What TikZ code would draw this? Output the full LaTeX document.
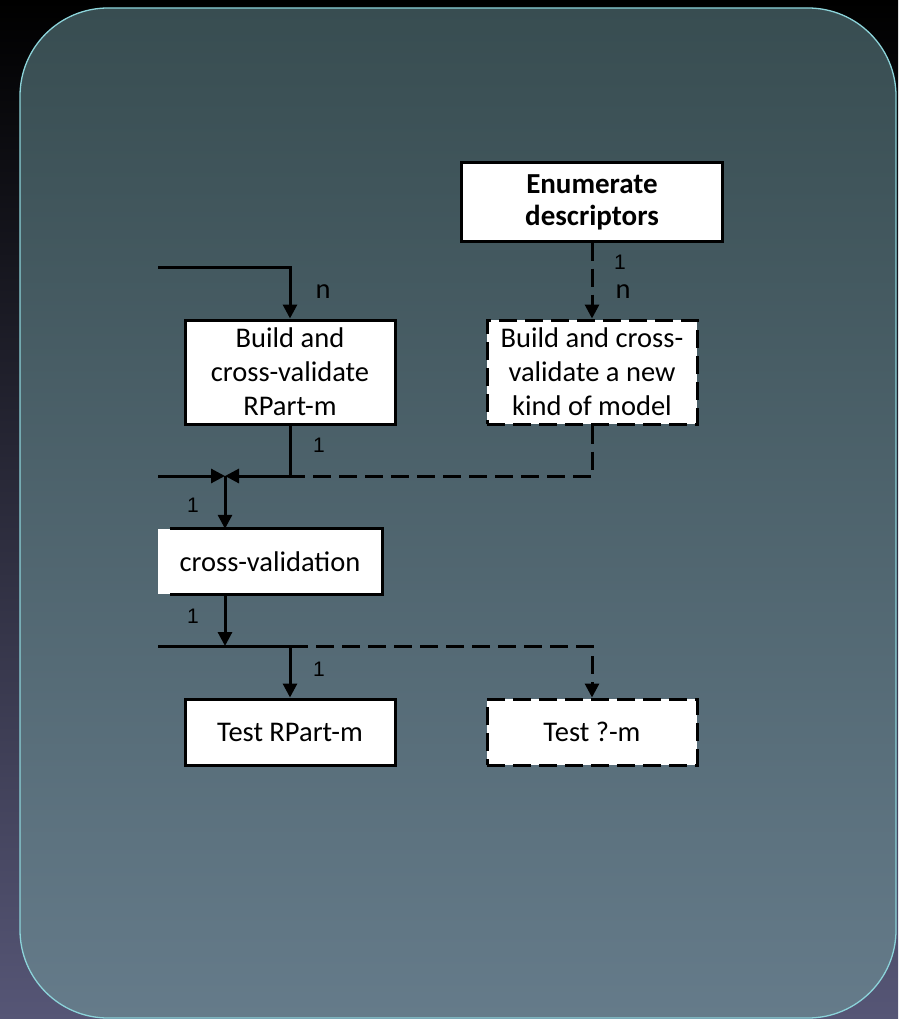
\documentclass[tikz,border=0pt]{standalone}
\usepackage{fontspec}
\setmainfont{Carlito}
\newfontfamily\numfont{Liberation Sans}
\usetikzlibrary{arrows.meta}
\definecolor{outtop}{RGB}{0,0,0}
\definecolor{outmid}{RGB}{30,30,50}
\definecolor{outbot}{RGB}{86,86,118}
\definecolor{intop}{RGB}{56,77,81}
\definecolor{inmid}{RGB}{76,96,112}
\definecolor{inbot}{RGB}{101,123,138}
\definecolor{rim}{RGB}{140,212,218}
\begin{document}
\begin{tikzpicture}[x=1pt,y=-1pt,
  txt/.style={font=\fontsize{28.5}{34}\selectfont},
  box/.style={draw=black, fill=white, line width=3pt, minimum width=210pt,
    inner sep=0pt, align=center, txt},
  dbox/.style={box, dash pattern=on 18pt off 8pt},
  ln/.style={draw=black, line width=3pt},
  dln/.style={ln, dash pattern=on 18pt off 8pt},
  tip/.style={-{Triangle[length=14pt,width=14pt]}},
  num/.style={font=\numfont\fontsize{21}{23}\selectfont},
  lab/.style={txt}]
\useasboundingbox (0,0) rectangle (898,1019);
\shade[top color=outtop, middle color=outmid, bottom color=outbot] (0,0) rectangle (898,1019);
\shade[top color=intop, middle color=inmid, bottom color=inbot, rounded corners=88pt] (20,8) rectangle (896,1018);
\draw[rim, line width=1.3pt, rounded corners=88pt] (20,8) rectangle (896,1018);

% nodes
\node[box, font=\bfseries\fontsize{29}{32}\selectfont, minimum width=261pt, minimum height=78pt] (enum) at (592,202) {Enumerate\\descriptors};
\node[box, minimum height=104pt] (rpart) at (290,372) {Build and\\cross-validate\\RPart-m};
\node[dbox, minimum height=104pt] (newm) at (592,372) {Build and cross-\\validate a new\\kind of model};
\fill[white] (158,529) rectangle (382,594);
\node[txt, minimum width=224pt, minimum height=65pt, inner sep=0pt] (cv) at (270,561.5) {cross-validation};
\draw[ln] ([xshift=12pt]cv.north west) -| (cv.south east) -- ([xshift=12pt]cv.south west);
\node[box, minimum height=66pt] (trp) at (290,732) {Test RPart-m};
\node[dbox, minimum height=66pt] (tqm) at (592,732) {Test ?-m};

% coordinates
\coordinate (in1) at (158,267);
\coordinate (j1) at (225,476);
\coordinate (l1) at (158,476);
\coordinate (m1) at (290,476);
\coordinate (j2) at (225,646);
\coordinate (l2) at (158,646);
\coordinate (s2) at (290,646);
\coordinate (d2) at (592,646);

% connectors
\draw[ln, tip] (in1) -| (rpart.north);
\draw[dln, tip] (enum.south) -- (newm.north);
\draw[dln] (newm.south) |- (m1);
\draw[ln, tip] (rpart.south) |- (j1);
\draw[ln, tip] (l1) -- (j1);
\draw[ln, tip] (j1) -- (j1 |- cv.north);
\draw[ln, tip] (j1 |- cv.south) -- (j2);
\draw[ln] (l2) -- (s2);
\draw[ln, tip] (s2) -- (trp.north);
\draw[dln, tip] (s2) -- (d2) -- (tqm.north);

% labels
\node[num] (la) at (620,262) {1};
\node[lab] (lb) at (623,292) {n};
\node[lab] (lc) at (323,292) {n};
\node[num] (ld) at (319,445) {1};
\node[num] (le) at (193,505) {1};
\node[num] (lf) at (193,616) {1};
\node[num] (lg) at (319,669) {1};
\end{tikzpicture}
\end{document}
